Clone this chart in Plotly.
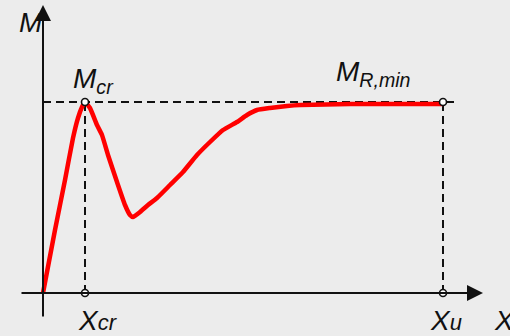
import plotly.graph_objects as go

# Curve data (deformation X, moment M) in arbitrary units
curve_x = [0, 12, 22, 30, 35, 39, 42, 47, 54, 59, 65, 74, 82, 87, 90, 97, 105, 114, 127,
           140, 154, 167, 180, 194, 204, 214, 227, 244, 257, 307, 400]
curve_m = [0, 63, 113, 155, 175, 186, 191, 185, 168, 158, 138, 111, 88, 78, 76, 81, 88, 95, 108,
           121, 138, 151, 163, 171, 178, 183, 185, 187, 188, 189, 189]

x_cr = 42
x_u = 400
m_cr = 191
m_ref_end = 415   # end of dashed reference line
x_axis_range = [-23, 440]
m_axis_range = [-25, 288]

fig = go.Figure()

dash_style = dict(color="#111", width=2, dash="8px,5px")
# dashed reference lines
fig.add_trace(go.Scatter(x=[0, m_ref_end], y=[m_cr, m_cr], mode="lines",
                         line=dash_style, hoverinfo="skip"))
fig.add_trace(go.Scatter(x=[x_cr, x_cr], y=[0, m_cr], mode="lines",
                         line=dash_style, hoverinfo="skip"))
fig.add_trace(go.Scatter(x=[x_u, x_u], y=[0, m_cr], mode="lines",
                         line=dash_style, hoverinfo="skip"))

# axes with arrows
fig.add_annotation(x=x_axis_range[1], y=0, ax=x_axis_range[0], ay=0, xref="x", yref="y",
                   axref="x", ayref="y", showarrow=True, arrowhead=2, arrowsize=1.6,
                   arrowwidth=2, arrowcolor="#111", text="", standoff=0)
fig.add_annotation(x=0, y=m_axis_range[1], ax=0, ay=m_axis_range[0], xref="x", yref="y",
                   axref="x", ayref="y", showarrow=True, arrowhead=2, arrowsize=1.6,
                   arrowwidth=2, arrowcolor="#111", text="", standoff=0)

# red curve
fig.add_trace(go.Scatter(x=curve_x, y=curve_m, mode="lines",
                         line=dict(color="#ff0000", width=4.5, shape="spline", smoothing=0.4),
                         hoverinfo="skip"))

# open circle markers
fig.add_trace(go.Scatter(x=[x_cr, x_cr, x_u, x_u], y=[m_cr, 0, 0, m_cr], mode="markers",
                         marker=dict(symbol="circle", size=7, color="white",
                                     line=dict(color="#111", width=1.6)),
                         hoverinfo="skip"))

font = dict(family="Liberation Sans, Arial, sans-serif", size=28, color="#111")
labels = [
    ("<i>M</i>", -12, 271),
    ("<i>M<sub>cr</sub></i>", 50, 213),
    ("<i>M<sub>R,min</sub></i>", 330, 220),
    ("<i>X<span style='font-size:22px'>cr</span></i>", 55, -27),
    ("<i>X<span style='font-size:22px'>u</span></i>", 403, -27),
    ("<i>X</i>", 461, -27),
]
for txt, lx, ly in labels:
    fig.add_annotation(x=lx, y=ly, xref="x", yref="y", text=txt, showarrow=False,
                       font=font, xanchor="center", yanchor="middle")

fig.update_layout(
    width=510, height=336, margin=dict(l=0, r=0, t=0, b=0),
    paper_bgcolor="#ececec", plot_bgcolor="#ececec", showlegend=False,
    xaxis=dict(range=[-43, 467], visible=False, fixedrange=True),
    yaxis=dict(range=[-43, 293], visible=False, fixedrange=True),
)
fig.write_html("out.html", config={"displayModeBar": False},
               post_script="document.body.style.margin='0';document.body.style.overflow='hidden';")
